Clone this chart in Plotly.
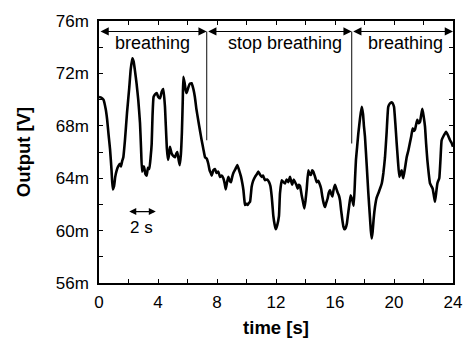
import plotly.graph_objects as go

# ---- data (time in s, output in mV) ----
time_s = [0.0, 0.15, 0.3, 0.45, 0.55, 0.65, 0.75, 0.85, 0.93, 1.02, 1.1, 1.2, 1.3, 1.42, 1.49, 1.57, 1.65, 1.76,
          1.9, 2.05, 2.15, 2.26, 2.35, 2.45, 2.55, 2.66, 2.78, 2.85, 2.92, 3.0, 3.05, 3.15, 3.23, 3.32, 3.41, 3.5,
          3.57, 3.63, 3.7, 3.8, 3.91, 4.02, 4.14, 4.25, 4.36, 4.47, 4.53, 4.6, 4.68, 4.75, 4.81, 4.92, 5.03, 5.15,
          5.25, 5.31, 5.4, 5.47, 5.55, 5.62, 5.68, 5.72, 5.8, 5.88, 5.94, 6.05, 6.15, 6.28, 6.4, 6.5, 6.6, 6.73,
          6.85, 6.96, 7.08, 7.19, 7.3, 7.41, 7.5, 7.58, 7.64, 7.75, 7.86, 7.97, 8.09, 8.2, 8.32, 8.43, 8.52, 8.59,
          8.68, 8.77, 8.86, 8.95, 9.03, 9.11, 9.25, 9.38, 9.5, 9.63, 9.72, 9.79, 9.85, 9.9, 10.0, 10.08, 10.16,
          10.24, 10.3, 10.35, 10.45, 10.58, 10.7, 10.8, 10.9, 11.03, 11.12, 11.25, 11.4, 11.53, 11.62, 11.71,
          11.77, 11.82, 11.9, 11.98, 12.08, 12.2, 12.27, 12.39, 12.5, 12.61, 12.72, 12.84, 12.95, 13.02, 13.1,
          13.2, 13.29, 13.38, 13.47, 13.55, 13.63, 13.74, 13.83, 13.92, 14.0, 14.08, 14.19, 14.28, 14.37, 14.45,
          14.53, 14.65, 14.76, 14.87, 14.98, 15.06, 15.14, 15.23, 15.32, 15.4, 15.5, 15.58, 15.66, 15.74, 15.82,
          15.9, 16.0, 16.09, 16.18, 16.26, 16.34, 16.42, 16.5, 16.57, 16.64, 16.72, 16.8, 16.88, 16.95, 17.06,
          17.13, 17.2, 17.27, 17.36, 17.42, 17.5, 17.58, 17.7, 17.81, 17.9, 17.96, 18.03, 18.15, 18.26, 18.37,
          18.43, 18.49, 18.55, 18.62, 18.71, 18.82, 18.94, 19.05, 19.17, 19.28, 19.39, 19.5, 19.61, 19.72, 19.84,
          19.92, 20.0, 20.09, 20.18, 20.27, 20.36, 20.44, 20.52, 20.58, 20.63, 20.75, 20.86, 20.97, 21.08, 21.17,
          21.26, 21.34, 21.42, 21.5, 21.58, 21.67, 21.76, 21.84, 21.92, 22.0, 22.1, 22.18, 22.26, 22.35, 22.44,
          22.53, 22.62, 22.7, 22.78, 22.86, 22.94, 23.0, 23.07, 23.15, 23.23, 23.35, 23.45, 23.53, 23.65, 23.8,
          23.9, 24.0]
output_mv = [70.2, 70.15, 70.0, 69.3, 68.5, 67.3, 66.2, 64.6, 63.15, 63.4, 64.1, 64.6, 64.9, 65.1, 64.9, 65.3, 65.6,
             66.9, 69.0, 70.9, 72.3, 73.15, 72.9, 72.1, 71.2, 70.0, 68.2, 66.3, 64.5, 64.8, 64.9, 64.3, 64.2, 64.8,
             64.7, 65.6, 66.6, 68.8, 70.2, 70.4, 70.5, 70.2, 70.1, 70.6, 70.8, 69.5, 68.0, 66.3, 65.4, 65.8, 66.4,
             65.9, 65.7, 65.6, 65.9, 66.0, 65.4, 65.0, 65.8, 67.5, 70.0, 71.75, 71.3, 70.7, 70.5, 70.9, 71.2, 71.25,
             70.8, 70.2, 69.3, 68.4, 67.6, 66.9, 66.2, 65.6, 65.5, 65.1, 64.6, 64.4, 64.2, 64.6, 64.7, 64.4, 64.5,
             64.1, 64.2, 64.0, 63.6, 63.15, 63.7, 64.1, 63.8, 63.7, 64.1, 64.4, 64.7, 65.0, 64.6, 64.1, 63.6, 63.1,
             62.4, 61.95, 62.05, 61.95, 62.1, 62.2, 62.8, 63.35, 63.8, 64.1, 64.3, 64.5, 64.3, 64.1, 64.2, 63.85,
             63.9, 63.7, 63.4, 62.6, 61.8, 61.1, 60.5, 60.1, 60.4, 61.1, 62.85, 63.85, 63.7, 63.6, 63.9, 63.7, 64.1,
             63.8, 63.5, 63.9, 63.7, 63.5, 63.2, 63.5, 63.4, 62.7, 62.2, 61.7, 62.3, 63.15, 64.6, 64.3, 64.25, 64.6,
             64.5, 64.1, 63.7, 63.8, 63.5, 63.2, 62.6, 62.1, 61.8, 62.1, 62.45, 62.9, 63.1, 62.8, 62.6, 63.1, 63.5,
             63.2, 62.9, 62.7, 62.3, 61.5, 60.8, 60.3, 60.1, 60.2, 60.5, 61.2, 61.8, 62.7, 62.5, 62.2, 61.9, 64.0,
             65.4, 66.4, 67.4, 68.6, 69.45, 68.9, 68.0, 67.2, 65.0, 62.85, 61.0, 60.0, 59.4, 59.9, 60.9, 61.8, 62.5,
             62.85, 63.2, 63.6, 64.4, 65.6, 67.5, 69.45, 69.7, 69.8, 69.7, 69.45, 68.2, 66.7, 65.3, 64.1, 64.4, 64.6,
             64.2, 64.0, 64.8, 65.6, 66.1, 66.7, 67.2, 67.8, 67.6, 67.7, 68.1, 68.45, 68.2, 68.3, 68.8, 69.3, 68.8,
             67.95, 66.6, 65.4, 64.4, 63.6, 63.4, 63.2, 62.7, 62.2, 62.9, 63.6, 63.8, 64.0, 65.4, 66.9, 67.2, 67.4,
             67.55, 67.3, 66.9, 66.7, 66.4]

x_tickvals = [0, 4, 8, 12, 16, 20, 24]
x_ticktext = ["0", "4", "8", "12", "16", "20", "24"]
y_tickvals = [56, 60, 64, 68, 72, 76]
y_ticktext = ["56m", "60m", "64m", "68m", "72m", "76m"]

phase_labels = ["breathing", "stop breathing", "breathing"]
phase_bounds = [0, 7.3, 17.13, 24]
phase_label_x = [3.66, 12.6, 20.75]
divider_bottom = [66.9, 66.65]
arrow_level = 75.2
label_level = 74.3

scale_bar = [1.95, 3.85]
scale_bar_level = 61.45
scale_text = "2 s"

FONT = "Liberation Sans, Arial, sans-serif"

fig = go.Figure()
fig.add_trace(go.Scatter(x=time_s, y=output_mv, mode="lines",
                         line=dict(color="black", width=2.6, shape="spline", smoothing=0.4),
                         showlegend=False, hoverinfo="skip"))

annotations = []
shapes = []
for i in range(3):
    x0, x1 = phase_bounds[i], phase_bounds[i + 1]
    annotations.append(dict(x=x1, y=arrow_level, ax=x0, ay=arrow_level, xref="x", yref="y",
                            axref="x", ayref="y", text="", showarrow=True, arrowhead=2,
                            arrowside="end+start", arrowsize=1.5, arrowwidth=1.1, arrowcolor="black",
                            startarrowhead=2, startarrowsize=1.5, standoff=0, startstandoff=0))
    annotations.append(dict(x=phase_label_x[i], y=label_level, xref="x", yref="y", text=phase_labels[i],
                            showarrow=False, font=dict(family=FONT, size=18, color="black")))
for i in range(2):
    xb = phase_bounds[i + 1]
    shapes.append(dict(type="line", xref="x", yref="y", x0=xb, x1=xb, y0=divider_bottom[i], y1=arrow_level,
                       line=dict(color="#333333", width=1.2)))

annotations.append(dict(x=scale_bar[1], y=scale_bar_level, ax=scale_bar[0], ay=scale_bar_level,
                        xref="x", yref="y", axref="x", ayref="y", text="", showarrow=True, arrowhead=2,
                        arrowside="end+start", arrowsize=1.0, arrowwidth=1.4, arrowcolor="black",
                        startarrowhead=2, startarrowsize=1.0, standoff=0, startstandoff=0))
annotations.append(dict(x=(scale_bar[0] + scale_bar[1]) / 2, y=60.25, xref="x", yref="y", text=scale_text,
                        showarrow=False, font=dict(family=FONT, size=17, color="black")))

axis_common = dict(showline=True, linecolor="black", linewidth=1.6, mirror="allticks", ticks="inside",
                   ticklen=4, tickwidth=1.2, tickcolor="black", showgrid=False, zeroline=False,
                   automargin=False, tickfont=dict(family=FONT, size=17, color="black"))

fig.update_layout(
    width=464, height=342,
    margin=dict(l=99, r=11, t=21, b=59),
    paper_bgcolor="white", plot_bgcolor="white",
    shapes=shapes, annotations=annotations,
    xaxis=dict(range=[0, 24], tickvals=x_tickvals, ticktext=x_ticktext, ticklabelstandoff=3,
               minor=dict(ticks="inside", ticklen=4, tickwidth=1.2, tickcolor="black", dtick=2, tick0=0),
               title=dict(text="<b>time [s]</b>", font=dict(family=FONT, size=18.5, color="black"), standoff=10),
               **axis_common),
    yaxis=dict(range=[56, 76], tickvals=y_tickvals, ticktext=y_ticktext, ticklabelstandoff=5,
               minor=dict(ticks="inside", ticklen=4, tickwidth=1.2, tickcolor="black", dtick=2, tick0=0),
               title=dict(text="<b>Output [V]</b>", font=dict(family=FONT, size=18.5, color="black"), standoff=20),
               **axis_common),
)

fig.write_html("out.html")
